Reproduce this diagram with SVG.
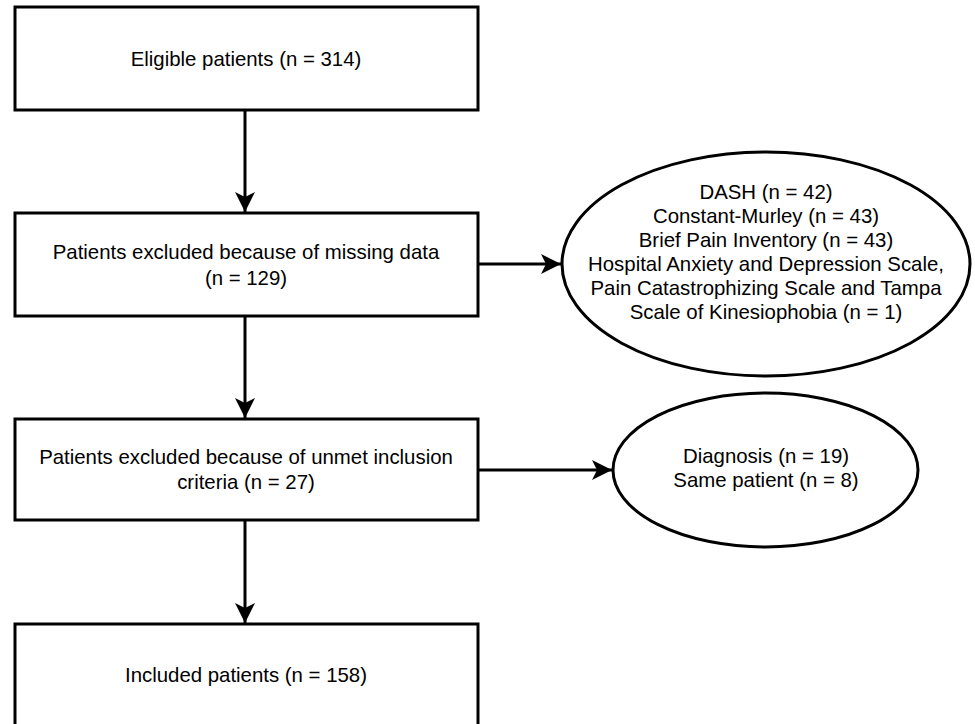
<svg xmlns="http://www.w3.org/2000/svg" width="975" height="724" viewBox="0 0 975 724">
<style>
.box{fill:#fff;stroke:#000;stroke-width:3}
.ell{fill:#fff;stroke:#000;stroke-width:3}
.edge{fill:none;stroke:#000;stroke-width:3}
text{font-family:"Liberation Sans",Arial,sans-serif;font-size:20.4px;fill:#000;text-anchor:middle}
</style>
<defs>
<marker id="ah" markerUnits="userSpaceOnUse" markerWidth="22" markerHeight="22" viewBox="-21 -11 22 22" refX="0" refY="0" orient="auto">
<path d="M0,0 L-20,-10 L-15,0 L-20,10 Z" fill="#000"/>
</marker>
</defs>
<rect width="975" height="724" fill="#fff"/>
<g id="connectors">
<line class="edge" x1="245" y1="110" x2="245" y2="212" marker-end="url(#ah)"/>
<line class="edge" x1="245" y1="316" x2="245" y2="418" marker-end="url(#ah)"/>
<line class="edge" x1="245" y1="520" x2="245" y2="623" marker-end="url(#ah)"/>
<line class="edge" x1="478" y1="264" x2="561" y2="264" marker-end="url(#ah)"/>
<line class="edge" x1="478" y1="470" x2="612" y2="470" marker-end="url(#ah)"/>
</g>
<g id="eligible">
<rect class="box" x="15" y="7" width="463" height="103"/>
<text x="246" y="66">Eligible patients (n = 314)</text>
</g>
<g id="missing">
<rect class="box" x="15" y="213" width="463" height="103"/>
<text x="246" y="259">Patients excluded because of missing data</text>
<text x="246" y="285">(n = 129)</text>
</g>
<g id="unmet">
<rect class="box" x="15" y="419" width="463" height="101"/>
<text x="246" y="464">Patients excluded because of unmet inclusion</text>
<text x="246" y="489">criteria (n = 27)</text>
</g>
<g id="included">
<rect class="box" x="15" y="624" width="463" height="104"/>
<text x="246" y="682">Included patients (n = 158)</text>
</g>
<g id="missing-detail">
<ellipse class="ell" cx="766" cy="264" rx="204" ry="112"/>
<text x="766" y="199">DASH (n = 42)</text>
<text x="766" y="223">Constant-Murley (n = 43)</text>
<text x="766" y="247">Brief Pain Inventory (n = 43)</text>
<text x="766" y="271">Hospital Anxiety and Depression Scale,</text>
<text x="766" y="295">Pain Catastrophizing Scale and Tampa</text>
<text x="766" y="319">Scale of Kinesiophobia (n = 1)</text>
</g>
<g id="unmet-detail">
<ellipse class="ell" cx="765.5" cy="470" rx="152.5" ry="77"/>
<text x="766" y="463">Diagnosis (n = 19)</text>
<text x="766" y="487">Same patient (n = 8)</text>
</g>
</svg>
